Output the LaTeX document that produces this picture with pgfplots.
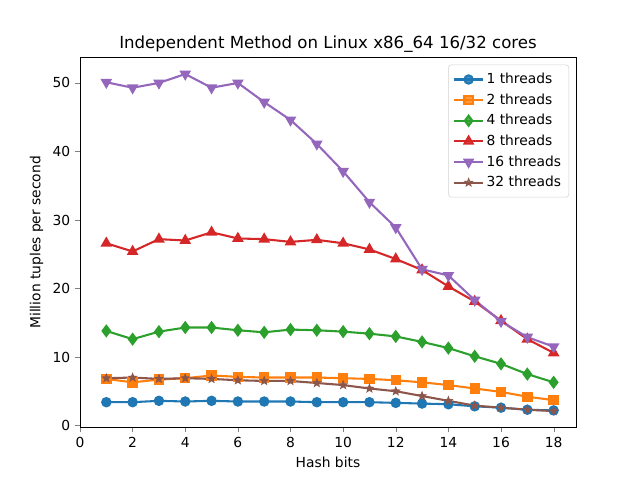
\documentclass[border=0pt]{standalone}
\usepackage{fontspec}
\setmainfont{DejaVu Sans}
\usepackage{pgfplots}
\pgfplotsset{compat=1.18}
\usetikzlibrary{calc}

\definecolor{tblue}{RGB}{31,119,180}
\definecolor{torange}{RGB}{255,127,14}
\definecolor{tgreen}{RGB}{44,160,44}
\definecolor{tred}{RGB}{214,39,40}
\definecolor{tpurple}{RGB}{148,103,189}
\definecolor{tbrown}{RGB}{140,86,75}

% filled five-point star, like matplotlib's '*'
\pgfdeclareplotmark{fstar}{%
  \pgfpathmoveto{\pgfpointpolar{90}{\pgfplotmarksize}}%
  \foreach \k in {0,...,4}{%
    \pgfpathlineto{\pgfpointpolar{126+72*\k}{0.42\pgfplotmarksize}}%
    \pgfpathlineto{\pgfpointpolar{162+72*\k}{\pgfplotmarksize}}%
  }%
  \pgfpathclose
  \pgfusepathqfillstroke
}

\begin{document}
\begin{tikzpicture}
\begin{axis}[
  scale only axis,
  width=4.96in, height=3.696in,
  xmin=0, xmax=18.85, ymin=-0.25, ymax=53.7,
  xtick={0,2,...,18}, ytick={0,10,...,50},
  tick align=outside, xtick pos=left, ytick pos=left,
  major tick length=3.5pt,
  tick label style={font=\fontsize{10}{12}\selectfont},
  /pgf/number format/assume math mode=true,
  xlabel={Hash bits}, ylabel={Million tuples per second},
  label style={font=\fontsize{10}{12}\selectfont},
  title={Independent Method on Linux x86\_64 16/32 cores},
  title style={font=\fontsize{12}{14}\selectfont, yshift=-6pt},
  every axis plot/.append style={line width=1.5pt, mark size=3pt},
  legend image code/.code={%
    \draw[mark repeat=2, mark phase=2]
      plot coordinates {(0cm,0cm) (0.36cm,0cm) (0.72cm,0cm)};},
  legend style={at={(0.986,0.981)}, anchor=north east,
    font=\fontsize{10}{12}\selectfont, draw=gray!35, rounded corners=2pt,
    fill=white, fill opacity=0.8, text opacity=1,
    row sep=1.8pt, inner xsep=3.5pt, inner ysep=4pt},
  legend cell align=left,
]
\addplot[tblue, mark=*] coordinates {
 (1,3.4)(2,3.4)(3,3.6)(4,3.5)(5,3.6)(6,3.5)(7,3.5)(8,3.5)(9,3.4)
 (10,3.4)(11,3.4)(12,3.3)(13,3.2)(14,3.1)(15,2.8)(16,2.6)(17,2.3)(18,2.2)};
\addlegendentry{1 threads}
\addplot[torange, mark=square*] coordinates {
 (1,6.8)(2,6.3)(3,6.7)(4,6.9)(5,7.3)(6,7.1)(7,7.0)(8,7.0)(9,7.0)
 (10,6.9)(11,6.8)(12,6.6)(13,6.3)(14,5.9)(15,5.4)(16,4.9)(17,4.2)(18,3.7)};
\addlegendentry{2 threads}
\addplot[tgreen, mark=diamond*, mark size=3.6pt] coordinates {
 (1,13.8)(2,12.6)(3,13.7)(4,14.3)(5,14.3)(6,13.9)(7,13.6)(8,14.0)(9,13.9)
 (10,13.7)(11,13.4)(12,13.0)(13,12.2)(14,11.3)(15,10.1)(16,9.0)(17,7.5)(18,6.3)};
\addlegendentry{4 threads}
\addplot[tred, mark=triangle*, mark size=3.4pt] coordinates {
 (1,26.6)(2,25.4)(3,27.2)(4,27.0)(5,28.2)(6,27.3)(7,27.2)(8,26.8)(9,27.1)
 (10,26.6)(11,25.7)(12,24.3)(13,22.7)(14,20.3)(15,18.1)(16,15.3)(17,12.6)(18,10.6)};
\addlegendentry{8 threads}
\addplot[tpurple, mark=triangle*, mark size=3.4pt, mark options={rotate=180}] coordinates {
 (1,50.1)(2,49.3)(3,50.0)(4,51.3)(5,49.3)(6,50.0)(7,47.2)(8,44.6)(9,41.1)
 (10,37.1)(11,32.6)(12,28.9)(13,22.8)(14,21.9)(15,18.3)(16,15.2)(17,12.9)(18,11.5)};
\addlegendentry{16 threads}
\addplot[tbrown, mark=fstar, mark size=3pt, mark options={line width=0.6pt}] coordinates {
 (1,6.9)(2,7.0)(3,6.8)(4,6.9)(5,6.8)(6,6.6)(7,6.5)(8,6.5)(9,6.2)
 (10,5.9)(11,5.4)(12,5.0)(13,4.3)(14,3.6)(15,2.9)(16,2.6)(17,2.3)(18,2.1)};
\addlegendentry{32 threads}
\end{axis}
\path ($(current axis.south west)+(-0.8in,-0.528in)$) rectangle ($(current axis.north east)+(0.64in,0.576in)$);
\end{tikzpicture}
\end{document}
